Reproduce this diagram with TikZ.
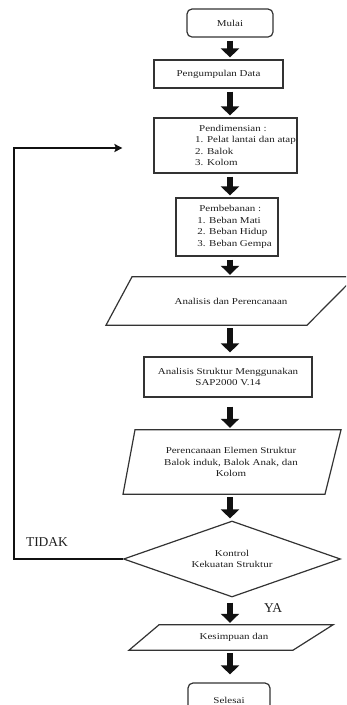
\documentclass[tikz,border=0pt]{standalone}
\usepackage{fontspec}
\setmainfont[FakeStretch=1.22]{Liberation Serif}
\newfontfamily\labelfont{Liberation Serif}
\usepackage{xcolor}
\definecolor{cLine}{HTML}{333333}
\definecolor{cText}{HTML}{1E1E1E}
\definecolor{cArrow}{HTML}{111111}
\usepackage{tikz}
\usetikzlibrary{positioning,arrows.meta,shapes.geometric,calc}
\tikzset{
  node-box/.style={draw=cLine,line width=1.2pt,align=center,inner sep=1pt,
    text=cText,font=\fontsize{9}{11.5}\selectfont},
  node-term/.style={node-box,rounded corners=5pt},
  node-list/.style={node-box,align=left},
  node-io/.style={align=center,inner sep=0pt,text=cText,
    font=\fontsize{9}{11.5}\selectfont},
  node-io-line/.style={draw=cLine,line width=1.2pt,line join=miter},
  node-check/.style={node-box,diamond,aspect=2.85},
  node-label/.style={text=cText,font=\labelfont\fontsize{13.5}{14}\selectfont},
  arrow-block/.style={-{Triangle[width=18pt,length=9pt]},line width=6pt,
    draw=cArrow,shorten <=3pt,shorten >=2pt},
  arrow-back/.style={-{Stealth[length=8pt,width=8pt,inset=1.5pt]},
    line width=2.4pt,draw=cArrow,line join=miter},
}

\begin{document}
\begin{tikzpicture}[x=1pt,y=-1pt]
  \useasboundingbox (0,0) rectangle (346,705);
  \clip (0,0) rectangle (346,705);
  \coordinate (spine) at (230,0);
  \coordinate (rail) at (14,0);

  \node[node-term,minimum width=86pt,minimum height=28pt] (mulai) at (230,23) {Mulai};
  \node[node-box,minimum width=129pt,minimum height=28pt] (data) at (218.5,74) {Pengumpulan Data};
  \node[node-list,minimum width=143pt,minimum height=55pt] (dim) at (225.5,145.5)
    {\hspace*{44pt}Pendimensian :\\\hspace*{40pt}1. Pelat lantai dan atap\\
     \hspace*{40pt}2. Balok\\\hspace*{40pt}3. Kolom};
  \node[node-list,minimum width=102pt,minimum height=58pt] (beban) at (227,227)
    {\hspace*{17pt}Pembebanan :\\\hspace*{15pt}1. Beban Mati\\
     \hspace*{15pt}2. Beban Hidup\\\hspace*{15pt}3. Beban Gempa};
  \node[node-io,minimum height=48pt] (ana) at (231,301) {Analisis dan Perencanaan};
  \draw[node-io-line] ($(ana.north)+(-99,0)$) -- ($(ana.north)+(124,0)$)
    -- ($(ana.south)+(76,0)$) -- ($(ana.south)+(-125,0)$) -- cycle;
  \node[node-box,minimum width=168pt,minimum height=40pt] (sap) at (228,377)
    {Analisis Struktur Menggunakan\\SAP2000 V.14};
  \node[node-io,minimum height=64pt] (elemen) at (231,462)
    {Perencanaan Elemen Struktur\\Balok induk, Balok Anak, dan\\Kolom};
  \draw[node-io-line] ($(elemen.north)+(-96,0)$) -- ($(elemen.north)+(110,0)$)
    -- ($(elemen.south)+(94,0)$) -- ($(elemen.south)+(-108,0)$) -- cycle;
  \node[node-check,minimum width=217pt,minimum height=76pt] (cek) at (232,559)
    {Kontrol\\Kekuatan Struktur};
  \node[node-io,minimum height=25pt] (kes) at (234,637.5) {Kesimpuan dan};
  \draw[node-io-line] ($(kes.north)+(-75,0)$) -- ($(kes.north)+(99,0)$)
    -- ($(kes.south)+(59,0)$) -- ($(kes.south)+(-105,0)$) -- cycle;
  \node[node-term,minimum width=82pt,minimum height=34pt] (selesai) at (229,700) {Selesai};

  \node[node-label] (tidak) at (47,542) {TIDAK};
  \node[node-label] (ya) at (273,608) {YA};
  \coordinate (back) at ($(dim.west)+(-31,2.5)$);

  \draw[arrow-block] (mulai.south -| spine) -- (data.north -| spine);
  \draw[arrow-block] (data.south -| spine) -- (dim.north -| spine);
  \draw[arrow-block] (dim.south -| spine) -- (beban.north -| spine);
  \draw[arrow-block] (beban.south -| spine) -- (ana.north -| spine);
  \draw[arrow-block,shorten >=4pt] (ana.south -| spine) -- (sap.north -| spine);
  \draw[arrow-block,shorten <=9pt] (sap.south -| spine) -- (elemen.north -| spine);
  \draw[arrow-block] (elemen.south -| spine) -- (cek.north -| spine);
  \draw[arrow-block,shorten <=5pt] (cek.south -| spine) -- (kes.north -| spine);
  \draw[arrow-block,shorten >=8pt] (kes.south -| spine) -- (selesai.north -| spine);
  \draw[arrow-back] (cek.west) -- (cek.west -| rail) |- (back);
\end{tikzpicture}
\end{document}
